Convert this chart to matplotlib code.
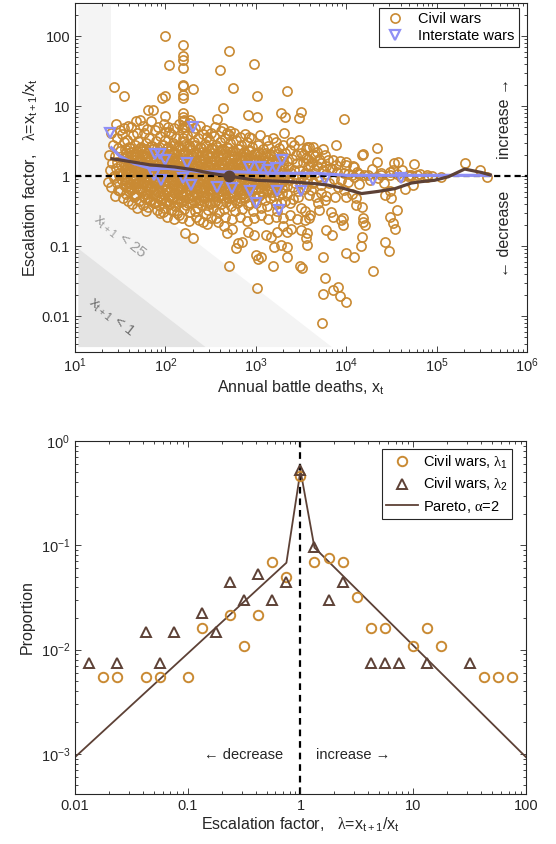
import numpy as np
import matplotlib
matplotlib.use('Agg')
import matplotlib.pyplot as plt
from matplotlib.patches import Polygon

plt.rcParams['font.family'] = ['Liberation Sans', 'DejaVu Sans']
plt.rcParams['font.size'] = 10
plt.rcParams['mathtext.fontset'] = 'custom'
plt.rcParams['mathtext.rm'] = 'Liberation Sans'
plt.rcParams['mathtext.it'] = 'Liberation Sans:italic'
plt.rcParams['mathtext.bf'] = 'Liberation Sans:bold'
plt.rcParams['mathtext.sf'] = 'Liberation Serif'

# ---------------- TOP PANEL DATA (log10 of battle deaths x_t, log10 of lambda) -------------
# dense cloud of civil-war years
cloud_log10_x = [
    1.40, 1.42, 1.38, 1.41, 1.39, 1.43, 1.37, 1.40,
    1.46, 1.48, 1.44, 1.47, 1.45, 1.49, 1.43, 1.46, 1.48, 1.44,
    1.52, 1.54, 1.50, 1.53, 1.51, 1.55, 1.49, 1.52, 1.54, 1.50, 1.53,
    1.58, 1.60, 1.56, 1.59, 1.57, 1.61, 1.55, 1.58, 1.60, 1.56, 1.59,
    1.64, 1.66, 1.62, 1.65, 1.63, 1.67, 1.61, 1.64, 1.66, 1.62, 1.65, 1.63,
    1.70, 1.72, 1.68, 1.71, 1.69, 1.73, 1.67, 1.70, 1.72, 1.68, 1.71, 1.69,
    1.76, 1.78, 1.74, 1.77, 1.75, 1.79, 1.73, 1.76, 1.78, 1.74, 1.77, 1.75, 1.79,
    1.82, 1.84, 1.80, 1.83, 1.81, 1.85, 1.79, 1.82, 1.84, 1.80, 1.83, 1.81,
    1.88, 1.90, 1.86, 1.89, 1.87, 1.91, 1.85, 1.88, 1.90, 1.86, 1.89, 1.87, 1.91,
    1.94, 1.96, 1.92, 1.95, 1.93, 1.97, 1.91, 1.94, 1.96, 1.92, 1.95, 1.93, 1.97,
    2.00, 2.02, 1.98, 2.01, 1.99, 2.03, 1.97, 2.00, 2.02, 1.98, 2.01, 1.99,
    2.06, 2.08, 2.04, 2.07, 2.05, 2.09, 2.03, 2.06, 2.08, 2.04, 2.07, 2.05, 2.09,
    2.12, 2.14, 2.10, 2.13, 2.11, 2.15, 2.09, 2.12, 2.14, 2.10, 2.13, 2.11, 2.15,
    2.18, 2.20, 2.16, 2.19, 2.17, 2.21, 2.15, 2.18, 2.20, 2.16, 2.19, 2.17, 2.21,
    2.24, 2.26, 2.22, 2.25, 2.23, 2.27, 2.21, 2.24, 2.26, 2.22, 2.25, 2.23, 2.27,
    2.30, 2.32, 2.28, 2.31, 2.29, 2.33, 2.27, 2.30, 2.32, 2.28, 2.31, 2.29, 2.33,
    2.36, 2.38, 2.34, 2.37, 2.35, 2.39, 2.33, 2.36, 2.38, 2.34, 2.37, 2.35,
    2.42, 2.44, 2.40, 2.43, 2.41, 2.45, 2.39, 2.42, 2.44, 2.40, 2.43, 2.41, 2.45,
    2.48, 2.50, 2.46, 2.49, 2.47, 2.51, 2.45, 2.48, 2.50, 2.46, 2.49, 2.47,
    2.54, 2.56, 2.52, 2.55, 2.53, 2.57, 2.51, 2.54, 2.56, 2.52, 2.55, 2.53,
    2.60, 2.62, 2.58, 2.61, 2.59, 2.63, 2.57, 2.60, 2.62, 2.58, 2.61, 2.59,
    2.66, 2.68, 2.64, 2.67, 2.65, 2.69, 2.63, 2.66, 2.68, 2.64, 2.67, 2.65,
    2.72, 2.74, 2.70, 2.73, 2.71, 2.75, 2.69, 2.72, 2.74, 2.70, 2.73,
    2.78, 2.80, 2.76, 2.79, 2.77, 2.81, 2.75, 2.78, 2.80, 2.76, 2.79, 2.77,
    2.84, 2.86, 2.82, 2.85, 2.83, 2.87, 2.81, 2.84, 2.86, 2.82, 2.85,
    2.90, 2.92, 2.88, 2.91, 2.89, 2.93, 2.87, 2.90, 2.92, 2.88, 2.91,
    2.96, 2.98, 2.94, 2.97, 2.95, 2.99, 2.93, 2.96, 2.98, 2.94, 2.97,
    3.02, 3.04, 3.00, 3.03, 3.01, 3.05, 2.99, 3.02, 3.04, 3.00,
    3.08, 3.10, 3.06, 3.09, 3.07, 3.11, 3.05, 3.08, 3.10, 3.06,
    3.14, 3.16, 3.12, 3.15, 3.13, 3.17, 3.11, 3.14, 3.16, 3.12,
    3.20, 3.22, 3.18, 3.21, 3.19, 3.23, 3.17, 3.20, 3.22,
    3.26, 3.28, 3.24, 3.27, 3.25, 3.29, 3.23, 3.26, 3.28, 3.24,
    3.32, 3.34, 3.30, 3.33, 3.31, 3.35, 3.29, 3.32,
    3.38, 3.40, 3.36, 3.39, 3.37, 3.41, 3.35, 3.38,
    3.44, 3.46, 3.42, 3.45, 3.43, 3.47, 3.41,
    3.50, 3.52, 3.48, 3.51, 3.49, 3.53, 3.47, 3.50,
    3.56, 3.58, 3.54, 3.57, 3.55, 3.59,
    3.62, 3.64, 3.60, 3.63, 3.61,
]
cloud_log10_lam = [
    0.62, 0.45, 0.30, 0.18, 0.08, 0.00, -0.08, -0.16,
    0.55, 0.40, 0.28, 0.20, 0.12, 0.05, -0.03, -0.10, -0.20, -0.28,
    0.60, 0.48, 0.36, 0.26, 0.16, 0.09, 0.02, -0.05, -0.13, -0.22, -0.32,
    0.52, 0.42, 0.33, 0.24, 0.15, 0.07, -0.01, -0.09, -0.17, -0.26, -0.36,
    0.58, 0.45, 0.35, 0.27, 0.19, 0.11, 0.04, -0.04, -0.12, -0.20, -0.30, -0.40,
    0.50, 0.40, 0.31, 0.22, 0.14, 0.06, -0.02, -0.10, -0.18, -0.27, -0.36, -0.45,
    0.62, 0.47, 0.36, 0.27, 0.18, 0.10, 0.02, -0.06, -0.14, -0.22, -0.31, -0.41, -0.50,
    0.55, 0.43, 0.33, 0.24, 0.16, 0.08, 0.00, -0.08, -0.16, -0.25, -0.34, -0.44,
    0.66, 0.50, 0.38, 0.29, 0.20, 0.12, 0.04, -0.04, -0.12, -0.20, -0.29, -0.38, -0.48,
    0.57, 0.44, 0.34, 0.25, 0.17, 0.09, 0.01, -0.07, -0.15, -0.23, -0.32, -0.42, -0.52,
    0.52, 0.40, 0.30, 0.21, 0.13, 0.05, -0.03, -0.11, -0.19, -0.27, -0.36, -0.46,
    0.60, 0.47, 0.36, 0.27, 0.19, 0.11, 0.03, -0.05, -0.13, -0.21, -0.30, -0.40, -0.50,
    0.55, 0.43, 0.33, 0.24, 0.16, 0.08, 0.00, -0.08, -0.16, -0.24, -0.33, -0.43, -0.56,
    0.68, 0.50, 0.39, 0.30, 0.21, 0.13, 0.05, -0.03, -0.11, -0.19, -0.28, -0.37, -0.47,
    0.58, 0.45, 0.35, 0.26, 0.18, 0.10, 0.02, -0.06, -0.14, -0.22, -0.31, -0.41, -0.52,
    0.63, 0.49, 0.38, 0.29, 0.20, 0.12, 0.04, -0.04, -0.12, -0.20, -0.29, -0.39, -0.50,
    0.54, 0.42, 0.32, 0.23, 0.15, 0.07, -0.01, -0.09, -0.17, -0.25, -0.34, -0.45,
    0.60, 0.46, 0.35, 0.26, 0.17, 0.09, 0.01, -0.07, -0.15, -0.23, -0.32, -0.42, -0.54,
    0.52, 0.40, 0.30, 0.21, 0.13, 0.05, -0.03, -0.11, -0.19, -0.28, -0.38, -0.48,
    0.57, 0.44, 0.33, 0.24, 0.16, 0.08, 0.00, -0.08, -0.16, -0.25, -0.35, -0.46,
    0.48, 0.37, 0.28, 0.19, 0.11, 0.03, -0.05, -0.13, -0.21, -0.30, -0.40, -0.52,
    0.54, 0.41, 0.31, 0.22, 0.14, 0.06, -0.02, -0.10, -0.18, -0.27, -0.37, -0.47,
    0.47, 0.36, 0.26, 0.17, 0.09, 0.01, -0.07, -0.15, -0.23, -0.32, -0.43,
    0.52, 0.39, 0.29, 0.20, 0.12, 0.04, -0.04, -0.12, -0.20, -0.29, -0.39, -0.50,
    0.44, 0.33, 0.24, 0.15, 0.07, -0.01, -0.09, -0.17, -0.26, -0.36, -0.47,
    0.49, 0.37, 0.27, 0.18, 0.10, 0.02, -0.06, -0.14, -0.22, -0.31, -0.42,
    0.42, 0.31, 0.21, 0.12, 0.04, -0.04, -0.12, -0.20, -0.29, -0.39, -0.50,
    0.45, 0.34, 0.24, 0.15, 0.07, -0.01, -0.09, -0.18, -0.28, -0.38,
    0.39, 0.28, 0.18, 0.09, 0.01, -0.07, -0.15, -0.24, -0.34, -0.45,
    0.43, 0.31, 0.20, 0.11, 0.03, -0.05, -0.13, -0.22, -0.32, -0.43,
    0.36, 0.25, 0.15, 0.06, -0.02, -0.10, -0.19, -0.29, -0.40,
    0.40, 0.28, 0.17, 0.08, 0.00, -0.08, -0.17, -0.27, -0.38, -0.50,
    0.33, 0.22, 0.12, 0.03, -0.05, -0.14, -0.24, -0.35,
    0.37, 0.24, 0.13, 0.04, -0.05, -0.15, -0.26, -0.38,
    0.30, 0.18, 0.08, -0.01, -0.10, -0.21, -0.33,
    0.33, 0.20, 0.09, 0.00, -0.09, -0.19, -0.30, -0.45,
    0.26, 0.14, 0.04, -0.05, -0.15, -0.27,
    0.20, 0.10, 0.01, -0.10, -0.20,
]

# second layer of the dense core (interleaved with the first)
core_log10_x = [
    1.55, 1.56, 1.54, 1.57, 1.53, 1.55, 1.56,
    1.61, 1.62, 1.60, 1.63, 1.59, 1.61, 1.62, 1.60,
    1.67, 1.68, 1.66, 1.69, 1.65, 1.67, 1.68, 1.66,
    1.73, 1.74, 1.72, 1.75, 1.71, 1.73, 1.74, 1.72, 1.75,
    1.79, 1.80, 1.78, 1.81, 1.77, 1.79, 1.80, 1.78, 1.81,
    1.85, 1.86, 1.84, 1.87, 1.83, 1.85, 1.86, 1.84, 1.87, 1.83,
    1.91, 1.92, 1.90, 1.93, 1.89, 1.91, 1.92, 1.90, 1.93, 1.89,
    1.97, 1.98, 1.96, 1.99, 1.95, 1.97, 1.98, 1.96, 1.99, 1.95,
    2.03, 2.04, 2.02, 2.05, 2.01, 2.03, 2.04, 2.02, 2.05, 2.01,
    2.09, 2.10, 2.08, 2.11, 2.07, 2.09, 2.10, 2.08, 2.11, 2.07,
    2.15, 2.16, 2.14, 2.17, 2.13, 2.15, 2.16, 2.14, 2.17, 2.13,
    2.21, 2.22, 2.20, 2.23, 2.19, 2.21, 2.22, 2.20, 2.23, 2.19,
    2.27, 2.28, 2.26, 2.29, 2.25, 2.27, 2.28, 2.26, 2.29, 2.25,
    2.33, 2.34, 2.32, 2.35, 2.31, 2.33, 2.34, 2.32, 2.35, 2.31,
    2.39, 2.40, 2.38, 2.41, 2.37, 2.39, 2.40, 2.38, 2.41, 2.37,
    2.45, 2.46, 2.44, 2.47, 2.43, 2.45, 2.46, 2.44, 2.47, 2.43,
    2.51, 2.52, 2.50, 2.53, 2.49, 2.51, 2.52, 2.50, 2.53, 2.49,
    2.57, 2.58, 2.56, 2.59, 2.55, 2.57, 2.58, 2.56, 2.59, 2.55,
    2.63, 2.64, 2.62, 2.65, 2.61, 2.63, 2.64, 2.62, 2.65,
    2.69, 2.70, 2.68, 2.71, 2.67, 2.69, 2.70, 2.68, 2.71,
    2.75, 2.76, 2.74, 2.77, 2.73, 2.75, 2.76, 2.74, 2.77,
    2.81, 2.82, 2.80, 2.83, 2.79, 2.81, 2.82, 2.80, 2.83,
    2.87, 2.88, 2.86, 2.89, 2.85, 2.87, 2.88, 2.86,
    2.93, 2.94, 2.92, 2.95, 2.91, 2.93, 2.94, 2.92,
    2.99, 3.00, 2.98, 3.01, 2.97, 2.99, 3.00, 2.98,
    3.05, 3.06, 3.04, 3.07, 3.03, 3.05, 3.06,
    3.11, 3.12, 3.10, 3.13, 3.09, 3.11, 3.12,
    3.17, 3.18, 3.16, 3.19, 3.15, 3.17, 3.18,
    3.23, 3.24, 3.22, 3.25, 3.21, 3.23, 3.24,
    3.29, 3.30, 3.28, 3.31, 3.27, 3.29,
]
core_log10_lam = [
    0.38, 0.28, 0.19, 0.11, 0.03, -0.06, -0.16,
    0.40, 0.30, 0.21, 0.13, 0.05, -0.03, -0.12, -0.22,
    0.36, 0.27, 0.18, 0.10, 0.02, -0.06, -0.15, -0.25,
    0.42, 0.32, 0.23, 0.15, 0.07, -0.01, -0.10, -0.19, -0.29,
    0.38, 0.29, 0.20, 0.12, 0.04, -0.04, -0.13, -0.22, -0.32,
    0.43, 0.33, 0.24, 0.16, 0.08, 0.00, -0.08, -0.17, -0.26, -0.35,
    0.40, 0.30, 0.21, 0.13, 0.05, -0.03, -0.11, -0.20, -0.29, -0.38,
    0.44, 0.34, 0.25, 0.17, 0.09, 0.01, -0.07, -0.16, -0.25, -0.34,
    0.41, 0.31, 0.22, 0.14, 0.06, -0.02, -0.10, -0.19, -0.28, -0.37,
    0.45, 0.35, 0.26, 0.18, 0.10, 0.02, -0.06, -0.15, -0.24, -0.33,
    0.42, 0.32, 0.23, 0.15, 0.07, -0.01, -0.09, -0.18, -0.27, -0.37,
    0.44, 0.34, 0.25, 0.17, 0.09, 0.01, -0.07, -0.16, -0.25, -0.34,
    0.41, 0.31, 0.22, 0.14, 0.06, -0.02, -0.10, -0.19, -0.28, -0.38,
    0.44, 0.34, 0.25, 0.17, 0.09, 0.01, -0.07, -0.16, -0.25, -0.34,
    0.40, 0.30, 0.21, 0.13, 0.05, -0.03, -0.11, -0.20, -0.29, -0.38,
    0.43, 0.33, 0.24, 0.16, 0.08, 0.00, -0.08, -0.17, -0.26, -0.35,
    0.39, 0.29, 0.20, 0.12, 0.04, -0.04, -0.12, -0.21, -0.30, -0.40,
    0.41, 0.31, 0.22, 0.14, 0.06, -0.02, -0.10, -0.19, -0.28, -0.37,
    0.38, 0.28, 0.19, 0.11, 0.03, -0.05, -0.13, -0.22, -0.31,
    0.40, 0.30, 0.21, 0.13, 0.05, -0.03, -0.11, -0.20, -0.29,
    0.36, 0.26, 0.17, 0.09, 0.01, -0.07, -0.15, -0.24, -0.34,
    0.38, 0.28, 0.19, 0.11, 0.03, -0.05, -0.13, -0.22, -0.31,
    0.34, 0.24, 0.15, 0.07, -0.01, -0.09, -0.17, -0.26,
    0.36, 0.26, 0.17, 0.09, 0.01, -0.07, -0.15, -0.24,
    0.32, 0.22, 0.13, 0.05, -0.03, -0.11, -0.19, -0.28,
    0.30, 0.21, 0.12, 0.04, -0.04, -0.12, -0.21,
    0.33, 0.23, 0.14, 0.06, -0.02, -0.10, -0.19,
    0.29, 0.20, 0.11, 0.03, -0.05, -0.14, -0.23,
    0.31, 0.21, 0.12, 0.04, -0.04, -0.12, -0.21,
    0.26, 0.17, 0.08, 0.00, -0.08, -0.17,
]

# escalations well above the cloud
upper_log10_x = [2.00, 2.20, 2.20, 2.20, 2.20, 2.04, 2.70, 2.60, 2.98, 1.43,
                 1.54, 2.20, 2.20, 2.20, 2.20, 2.30, 2.75, 3.01, 3.34, 1.96,
                 2.00, 1.81, 1.86, 2.00, 2.64, 2.57, 2.91, 3.01, 3.28, 3.32,
                 3.50, 3.48, 1.72, 1.67, 1.59, 1.54, 2.00, 2.04, 2.19, 2.21,
                 2.27, 3.19, 3.31, 3.39, 2.93, 2.72, 2.68, 2.64, 2.46, 3.59]
upper_log10_lam = [2.00, 1.87, 1.71, 1.66, 1.54, 1.58, 1.78, 1.51, 1.60, 1.27,
                   1.15, 1.30, 1.28, 1.16, 1.11, 1.25, 1.26, 1.15, 1.22, 1.11,
                   1.14, 0.94, 0.94, 0.86, 0.97, 0.81, 0.87, 0.84, 0.90, 0.85,
                   0.92, 0.83, 0.80, 0.78, 0.72, 0.68, 0.63, 0.63, 0.85, 0.80,
                   0.80, 0.54, 0.61, 0.49, 0.56, 0.65, 0.61, 0.69, 0.56, 0.42]

halo_up_log10_x = [1.45, 1.50, 1.62, 1.69, 1.75, 1.80, 1.84, 1.92, 1.98, 2.03,
                   2.10, 2.15, 2.22, 2.26, 2.33, 2.38, 2.45, 2.50, 2.55, 2.62,
                   2.70, 2.76, 2.82, 2.88, 2.95, 3.05, 3.12, 3.22, 3.30, 3.42,
                   3.55, 3.48, 2.20, 2.20, 2.21, 2.20, 2.20]
halo_up_log10_lam = [0.75, 0.66, 0.70, 0.62, 0.72, 0.67, 0.78, 0.70, 0.75, 0.70,
                     0.68, 0.74, 0.70, 0.76, 0.68, 0.72, 0.66, 0.62, 0.70, 0.64,
                     0.58, 0.62, 0.56, 0.60, 0.55, 0.58, 0.52, 0.48, 0.45, 0.44,
                     0.38, 0.52, 0.90, 0.78, 0.70, 0.62, 0.55]

halo_low_log10_x = [2.02, 2.10, 2.18, 2.26, 2.34, 2.42, 2.50, 2.58, 2.66, 2.74,
                    2.82, 2.90, 2.98, 3.06, 3.14, 3.22, 3.30, 3.38, 3.46, 3.54,
                    3.60]
halo_low_log10_lam = [-0.58, -0.62, -0.60, -0.64, -0.58, -0.66, -0.60, -0.66, -0.58, -0.62,
                      -0.58, -0.64, -0.60, -0.56, -0.62, -0.58, -0.60, -0.55, -0.62, -0.50,
                      -0.56]

# strong de-escalations
lower_log10_x = [2.22, 2.30, 2.70, 3.01, 2.78, 2.80, 2.85, 3.00, 3.02, 3.06,
                 3.19, 3.20, 3.28, 3.35, 3.35, 3.49, 3.51, 3.17, 3.24, 3.30,
                 3.35, 3.39, 3.50, 3.57, 2.91, 2.98, 3.11, 2.37, 2.46, 2.56,
                 2.65, 2.74, 2.68, 1.94, 2.06, 2.13, 3.74, 4.00, 4.09, 4.30,
                 4.43, 4.47, 4.52, 4.54, 4.19, 4.21, 4.17, 4.16, 3.94, 3.96,
                 3.78, 3.84, 3.76, 3.74, 3.85, 3.91, 3.93, 4.00, 3.73, 3.56,
                 3.57, 3.54, 3.59]
lower_log10_lam = [-0.81, -0.89, -1.29, -1.60, -1.03, -0.96, -0.94, -1.13, -1.18, -1.15,
                   -1.29, -1.01, -0.99, -1.01, -1.15, -1.29, -1.31, -0.87, -0.80, -0.72,
                   -0.80, -0.75, -0.77, -0.82, -0.80, -0.84, -0.84, -0.63, -0.68, -0.60,
                   -0.72, -0.75, -0.82, -0.53, -0.49, -0.53, -1.15, -1.10, -1.15, -1.36,
                   -0.94, -1.07, -0.67, -0.75, -0.65, -0.70, -0.87, -1.00, -0.63, -0.70,
                   -0.77, -0.84, -1.46, -1.69, -1.63, -1.58, -1.71, -1.80, -2.10, -0.89,
                   -0.99, -0.63, -0.60]

# large wars (right part)
right_log10_x = [3.98, 3.89, 3.63, 3.57, 4.19, 4.17, 4.34, 4.00, 4.07, 4.34,
                 4.57, 4.53, 4.75, 5.31, 5.48, 4.89, 4.02, 4.14, 4.24, 4.39,
                 4.48, 4.69, 4.78, 3.63, 3.70, 3.80, 3.85, 3.89, 4.00, 4.09,
                 4.06, 4.09, 4.20, 4.35, 4.48, 4.52, 4.61, 4.72, 3.63, 3.72,
                 3.81, 3.91, 3.98, 4.06, 4.11, 4.17, 3.69, 3.70, 3.83, 3.85,
                 3.96, 4.19, 4.48, 4.50, 4.65, 4.74, 4.56, 4.48, 3.76, 4.00,
                 4.11, 4.43, 4.89, 5.56, 3.66, 3.70, 3.74, 3.68, 3.78, 3.82,
                 3.86, 3.90, 3.94, 3.72, 3.78, 3.88, 3.67, 3.98, 3.93, 3.76,
                 4.02, 4.12, 4.14, 4.26, 4.28, 4.38, 4.42, 4.56, 4.62, 4.68,
                 4.82, 4.95, 5.05, 3.52, 3.58, 3.66, 3.72, 3.78, 3.84, 3.60,
                 3.68, 3.74]
right_log10_lam = [0.81, 0.45, 0.42, 0.42, 0.31, 0.30, 0.40, 0.20, 0.15, 0.20,
                   0.20, 0.18, 0.17, 0.18, 0.08, 0.01, 0.03, 0.03, 0.02, 0.02,
                   0.01, 0.02, 0.01, 0.32, 0.25, 0.23, 0.23, 0.16, 0.16, 0.13,
                   0.01, -0.01, 0.01, -0.03, 0.06, 0.09, -0.01, 0.01, -0.08, -0.13,
                   -0.10, -0.15, -0.20, -0.25, -0.32, -0.44, -0.39, -0.49, -0.51, -0.58,
                   -0.60, -0.60, -0.22, -0.32, -0.18, -0.13, -0.49, -0.58, -0.34, -0.30,
                   -0.41, -0.27, -0.01, -0.01, 0.05, -0.02, 0.08, 0.15, 0.03, 0.12,
                   -0.04, 0.06, -0.06, -0.24, -0.28, -0.30, -0.30, 0.05, 0.22, 0.30,
                   -0.08, 0.06, -0.12, -0.05, 0.10, 0.05, -0.10, 0.03, 0.08, 0.00,
                   0.03, 0.00, -0.02, 0.30, 0.24, 0.28, 0.18, 0.14, 0.10, 0.16,
                   0.35, 0.38]

inter_log10_x = [1.39, 1.89, 1.94, 2.00, 2.30, 2.24, 2.93, 3.05, 3.13, 3.22,
                 3.29, 1.87, 1.95, 2.20, 2.28, 2.57, 2.74, 2.94, 3.00, 3.24,
                 3.26, 3.50, 3.76, 4.30, 4.61]
inter_log10_lam = [0.62, 0.32, 0.32, 0.23, 0.70, 0.19, 0.13, 0.13, 0.09, 0.11,
                   0.23, 0.02, -0.06, -0.03, -0.13, -0.15, -0.17, -0.22, -0.39, -0.22,
                   -0.49, -0.22, -0.06, -0.06, -0.03]

inter_trend_log10_x = [1.39, 1.50, 1.65, 1.83, 2.02, 2.20, 2.39, 2.81, 3.19, 3.67, 4.00, 5.61]
inter_trend_log10_lam = [0.42, 0.28, 0.18, 0.11, 0.11, 0.09, 0.06, 0.06, 0.04, 0.04, 0.01, 0.01]

civil_trend_log10_x = [1.39, 1.50, 1.83, 2.10, 2.31, 2.50, 2.70, 3.00, 3.37, 3.67, 3.80,
                       3.98, 4.17, 4.35, 4.54, 4.72, 4.83, 4.98, 5.13, 5.31, 5.50, 5.61]
civil_trend_log10_lam = [0.25, 0.23, 0.16, 0.13, 0.09, 0.04, 0.00, -0.06, -0.08, -0.11, -0.13,
                         -0.18, -0.25, -0.22, -0.18, -0.10, -0.08, -0.06, -0.01, 0.10, 0.05, 0.01]
civil_median_log10_x = [2.70]
civil_median_log10_lam = [0.00]

# ---------------- BOTTOM PANEL DATA -------------
lam1_x = [0.0178, 0.0237, 0.0422, 0.0562, 0.100, 0.133, 0.237, 0.316, 0.422, 0.562,
          0.750, 1.0, 1.33, 1.78, 2.37, 3.16, 4.22, 5.62, 10.0, 13.3,
          17.8, 42.2, 56.2, 75.0]
lam1_p = [0.0054, 0.0054, 0.0054, 0.0054, 0.0054, 0.0162, 0.0215, 0.0108, 0.0215, 0.0697,
          0.0493, 0.461, 0.0697, 0.0757, 0.0697, 0.0321, 0.0162, 0.0162, 0.0108, 0.0162,
          0.0108, 0.0054, 0.0054, 0.0054]
lam2_x = [0.0133, 0.0237, 0.0422, 0.0562, 0.0750, 0.133, 0.178, 0.237, 0.316, 0.422,
          0.562, 0.750, 1.0, 1.33, 1.78, 2.37, 4.22, 5.62, 7.50, 13.3, 31.6]
lam2_p = [0.0075, 0.0075, 0.0149, 0.0075, 0.0149, 0.0223, 0.0149, 0.0442, 0.030, 0.053,
          0.030, 0.0448, 0.527, 0.097, 0.030, 0.0442, 0.0075, 0.0075, 0.0075, 0.0075, 0.0075]
pareto_x = [0.01, 0.75, 1.0, 1.33, 100.0]
pareto_p = [0.00093, 0.068, 0.52, 0.095, 0.00093]

# ---------------- STYLE -------------
orange = '#C98A33'
brown = '#5D4136'
blue = '#8F8FF5'
axcol = '#262626'
LAM = r'$\mathsf{\lambda}$'
LABEL_FS = 11.5
TICK_FS = 10.5


def pairs(xs, ys):
    n = min(len(xs), len(ys))
    return np.array(xs[:n], float), np.array(ys[:n], float)


def style_axes(ax):
    for s in ax.spines.values():
        s.set_color(axcol)
        s.set_linewidth(0.8)
    ax.tick_params(which='both', direction='in', top=True, right=True,
                   colors=axcol, labelsize=TICK_FS, width=0.6)
    ax.tick_params(which='major', length=4.5)
    ax.tick_params(which='minor', length=2.3)


fig = plt.figure(figsize=(5.56, 8.44), dpi=100)

# ================= TOP =================
ax1 = fig.add_axes([75 / 556, (844 - 351.7) / 844, 452 / 556, 349.2 / 844])
ax1.set_xscale('log')
ax1.set_yscale('log')
ax1.set_xlim(10, 1e6)
ax1.set_ylim(10 ** -2.51, 10 ** 2.48)

xl, ylo, yhi = 10.9, 0.0036, 277.0
light = Polygon([(xl, yhi), (25, yhi), (25, 1.0), (25 / ylo, ylo), (xl, ylo)],
                closed=True, facecolor='#F4F4F4', edgecolor='none', zorder=0)
dark = Polygon([(xl, 1 / xl), (1 / ylo, ylo), (xl, ylo)],
               closed=True, facecolor='#E4E4E4', edgecolor='none', zorder=0.5)
ax1.add_patch(light)
ax1.add_patch(dark)
ax1.text(31.5, 0.135, r'x$_{\mathrm{t+1}}$ < 25', color='#9A9A9A', fontsize=11,
         rotation=-38, ha='center', va='center', rotation_mode='anchor', zorder=1)
ax1.text(25.5, 0.0095, r'x$_{\mathrm{t+1}}$ < 1', color='#707070', fontsize=11,
         rotation=-38, ha='center', va='center', rotation_mode='anchor', zorder=1)

groups = [(cloud_log10_x, cloud_log10_lam), (core_log10_x, core_log10_lam),
          (upper_log10_x, upper_log10_lam),
          (halo_up_log10_x, halo_up_log10_lam), (halo_low_log10_x, halo_low_log10_lam),
          (lower_log10_x, lower_log10_lam), (right_log10_x, right_log10_lam)]
cx, cy = [], []
for gx, gy in groups:
    a, b = pairs(gx, gy)
    cx.append(a)
    cy.append(b)
cx = 10 ** np.concatenate(cx)
cy = 10 ** np.concatenate(cy)

h_civ, = ax1.plot(cx, cy, ls='none', marker='o', ms=6.6, mfc='none', mec=orange,
                  mew=1.2, zorder=2, label='Civil wars')
ix, iy = pairs(inter_log10_x, inter_log10_lam)
h_int, = ax1.plot(10 ** ix, 10 ** iy, ls='none', marker='v', ms=7.5, mfc='none', mec=blue,
                  mew=1.6, zorder=3, label='Interstate wars')

ax1.axhline(1.0, color='k', lw=1.6, dashes=(2.8, 1.8), zorder=4)
tx, ty = pairs(inter_trend_log10_x, inter_trend_log10_lam)
ax1.plot(10 ** tx, 10 ** ty, color=blue, lw=2.3, zorder=5, solid_capstyle='butt')
tx, ty = pairs(civil_trend_log10_x, civil_trend_log10_lam)
ax1.plot(10 ** tx, 10 ** ty, color=brown, lw=2.3, zorder=6, solid_capstyle='butt')
ax1.plot(10 ** np.array(civil_median_log10_x), 10 ** np.array(civil_median_log10_lam),
         ls='none', marker='o', ms=7.5, mfc=brown, mec=brown, zorder=7)

ax1.set_yticks([0.01, 0.1, 1, 10, 100], labels=['0.01', '0.1', '1', '10', '100'])
ax1.set_xticks([1e1, 1e2, 1e3, 1e4, 1e5, 1e6])
style_axes(ax1)
ax1.set_xlabel(r'Annual battle deaths, x$_{\mathrm{t}}$', fontsize=LABEL_FS, color=axcol, labelpad=2)
ax1.set_ylabel('Escalation factor,   ' + LAM + r'=x$_{\mathrm{t+1}}$/x$_{\mathrm{t}}$',
               fontsize=LABEL_FS, color=axcol, labelpad=1)
ax1.text(0.951, 0.668, 'increase \u2192', rotation=90, ha='center', va='center',
         transform=ax1.transAxes, fontsize=LABEL_FS, color=axcol)
ax1.text(0.951, 0.337, '\u2190 decrease', rotation=90, ha='center', va='center',
         transform=ax1.transAxes, fontsize=LABEL_FS, color=axcol)
leg1 = ax1.legend(handles=[h_civ, h_int], loc='upper right', bbox_to_anchor=(0.982, 0.985),
                  borderaxespad=0, fontsize=10.5, frameon=True, fancybox=False,
                  framealpha=1, edgecolor=axcol, handlelength=1.6, handletextpad=0.8,
                  borderpad=0.3, labelspacing=0.2)
leg1.get_frame().set_linewidth(0.8)
leg1.set_zorder(10)

# ================= BOTTOM =================
ax2 = fig.add_axes([75 / 556, (844 - 794) / 844, 451 / 556, 353 / 844])
ax2.set_xscale('log')
ax2.set_yscale('log')
ax2.set_xlim(0.01, 100)
ax2.set_ylim(10 ** -3.385, 1.0)

ax2.axvline(1.0, color='k', lw=1.6, dashes=(3.0, 2.2), zorder=1)
h_par, = ax2.plot(pareto_x, pareto_p, color=brown, lw=1.3, zorder=2,
                  label='Pareto, ' + r'$\mathsf{\alpha}$=2')
h_l1, = ax2.plot(lam1_x, lam1_p, ls='none', marker='o', ms=6.8, mfc='none', mec=orange,
                 mew=1.4, zorder=3, label='Civil wars, ' + r'$\mathsf{\lambda}_{\mathrm{1}}$')
h_l2, = ax2.plot(lam2_x, lam2_p, ls='none', marker='^', ms=7.8, mfc='none', mec=brown,
                 mew=1.4, zorder=4, label='Civil wars, ' + r'$\mathsf{\lambda}_{\mathrm{2}}$')

ax2.set_xticks([0.01, 0.1, 1, 10, 100], labels=['0.01', '0.1', '1', '10', '100'])
ax2.set_yticks([1e-3, 1e-2, 1e-1, 1])
style_axes(ax2)
ax2.set_xlabel('Escalation factor,   ' + LAM + r'=x$_{\mathrm{t+1}}$/x$_{\mathrm{t}}$',
               fontsize=LABEL_FS, color=axcol, labelpad=2)
ax2.set_ylabel('Proportion', fontsize=LABEL_FS, color=axcol, labelpad=4)
ax2.text(0.31, 0.00098, '\u2190 decrease', ha='center', va='center', fontsize=10.5, color=axcol)
ax2.text(2.93, 0.00098, 'increase \u2192', ha='center', va='center', fontsize=10.5, color=axcol)
leg2 = ax2.legend(handles=[h_l1, h_l2, h_par], loc='upper right', bbox_to_anchor=(0.969, 0.977),
                  borderaxespad=0, fontsize=10.5, frameon=True, fancybox=False,
                  framealpha=1, edgecolor=axcol, handlelength=2.2, handletextpad=0.3,
                  borderpad=0.3, labelspacing=0.35)
leg2.get_frame().set_linewidth(0.8)

fig.savefig('out.png', dpi=100)
